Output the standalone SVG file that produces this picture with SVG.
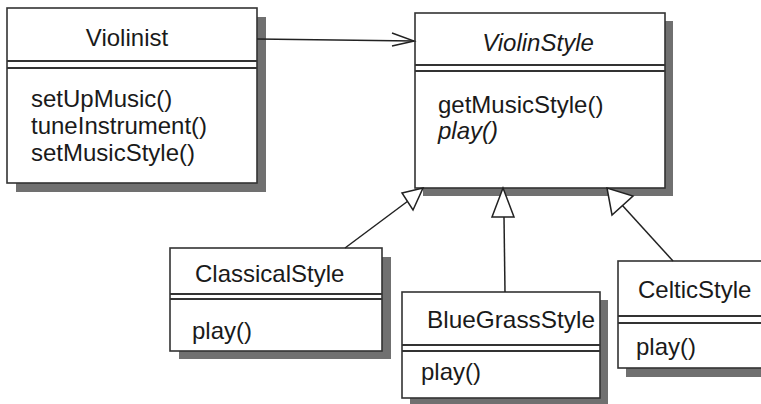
<svg xmlns="http://www.w3.org/2000/svg" width="761" height="404" viewBox="0 0 761 404">
<defs>
<style>
.shadow{fill:#707070}
.box{fill:#ffffff;stroke:#333;stroke-width:1.6}
.sep{stroke:#333;stroke-width:2;fill:none}
.t{font-family:"Liberation Sans",Arial,sans-serif;font-size:24px;fill:#1a1a1a}
.i{font-style:italic}
.conn{stroke:#222;stroke-width:1.5;fill:none}
.tri{stroke:#222;stroke-width:1.5;fill:#fff}
</style>
</defs>
<rect width="761" height="404" fill="#fff"/>
<g id="Violinist">
<rect class="shadow" x="16" y="17" width="250" height="175"/>
<rect class="box" x="7" y="8" width="250" height="175"/>
<line class="sep" x1="7" y1="61" x2="257" y2="61"/>
<line class="sep" x1="7" y1="68" x2="257" y2="68"/>
<text class="t" x="127" y="46" text-anchor="middle">Violinist</text>
<text class="t" x="31" y="107">setUpMusic()</text>
<text class="t" x="31" y="134">tuneInstrument()</text>
<text class="t" x="31" y="161">setMusicStyle()</text>
</g>
<g id="ViolinStyle">
<rect class="shadow" x="423" y="21" width="250" height="175"/>
<rect class="box" x="415" y="13" width="250" height="175"/>
<line class="sep" x1="415" y1="65" x2="665" y2="65"/>
<line class="sep" x1="415" y1="71" x2="665" y2="71"/>
<text class="t i" x="538" y="51" text-anchor="middle">ViolinStyle</text>
<text class="t" x="438" y="113">getMusicStyle()</text>
<text class="t i" x="438" y="139">play()</text>
</g>
<g id="ClassicalStyle">
<rect class="shadow" x="179" y="257" width="212" height="102"/>
<rect class="box" x="170" y="248" width="212" height="103"/>
<line class="sep" x1="170" y1="294" x2="382" y2="294"/>
<line class="sep" x1="170" y1="299" x2="382" y2="299"/>
<text class="t" x="195" y="282">ClassicalStyle</text>
<text class="t" x="192" y="339">play()</text>
</g>
<g id="BlueGrassStyle">
<rect class="shadow" x="410" y="300" width="198" height="106"/>
<rect class="box" x="402" y="292" width="198" height="106"/>
<line class="sep" x1="402" y1="345" x2="600" y2="345"/>
<line class="sep" x1="402" y1="351" x2="600" y2="351"/>
<text class="t" x="427" y="328" textLength="168" lengthAdjust="spacingAndGlyphs">BlueGrassStyle</text>
<text class="t" x="421" y="380">play()</text>
</g>
<g id="CelticStyle">
<rect class="shadow" x="626" y="269" width="145" height="108"/>
<rect class="box" x="618" y="261" width="150" height="107"/>
<line class="sep" x1="618" y1="316" x2="768" y2="316"/>
<line class="sep" x1="618" y1="323" x2="768" y2="323"/>
<text class="t" x="638" y="298">CelticStyle</text>
<text class="t" x="636" y="355">play()</text>
</g>
<g id="connectors">
<line class="conn" x1="257" y1="39" x2="414" y2="41"/>
<polyline class="conn" points="392,33 414,41 392,46"/>
<line class="conn" x1="345" y1="248" x2="408" y2="201"/>
<polygon class="tri" points="423,188 402,193 413,210"/>
<line class="conn" x1="505" y1="292" x2="504" y2="217"/>
<polygon class="tri" points="503,188 492,217 514,217"/>
<line class="conn" x1="673" y1="261" x2="622" y2="205"/>
<polygon class="tri" points="607,188 612,215 633,196"/>
</g>
</svg>
